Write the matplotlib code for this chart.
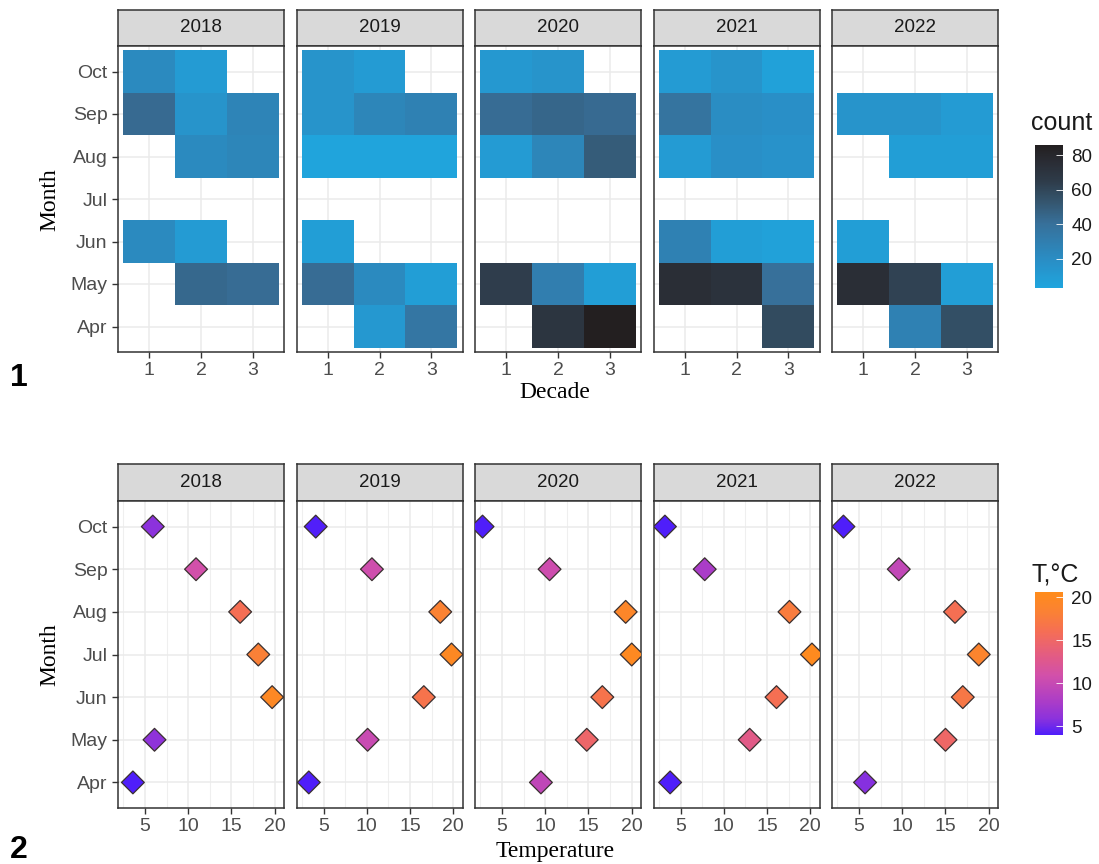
import numpy as np
import matplotlib.pyplot as plt
from matplotlib.colors import LinearSegmentedColormap, Normalize
from matplotlib.cm import ScalarMappable

# -------------------------------
# DATA
# -------------------------------
years = [2018, 2019, 2020, 2021, 2022]
months = ["Apr", "May", "Jun", "Jul", "Aug", "Sep", "Oct"]
decades = [1, 2, 3]
nan = np.nan

# counts per month (rows Apr..Oct) and decade (cols 1..3)
counts_2018 = [[nan, nan, nan], [nan, 44, 42], [22, 10, nan], [nan, nan, nan],
               [nan, 22, 25], [43, 15, 26], [22, 10, nan]]
counts_2019 = [[nan, 12, 36], [42, 22, 8], [8, nan, nan], [nan, nan, nan],
               [4, 4, 4], [15, 25, 28], [15, 10, nan]]
counts_2020 = [[nan, 70, 86], [64, 30, 8], [nan, nan, nan], [nan, nan, nan],
               [10, 25, 50], [42, 45, 43], [12, 15, nan]]
counts_2021 = [[nan, nan, 58], [75, 72, 40], [28, 8, 6], [nan, nan, nan],
               [10, 18, 16], [38, 20, 18], [10, 15, 6]]
counts_2022 = [[nan, 28, 56], [75, 62, 8], [8, nan, nan], [nan, nan, nan],
               [nan, 8, 8], [15, 15, 10], [nan, nan, nan]]
counts = [counts_2018, counts_2019, counts_2020, counts_2021, counts_2022]

# mean temperature per month (Apr..Oct)
temp_2018 = [3.6, 6.1, 19.7, 18.1, 16.0, 10.9, 5.9]
temp_2019 = [3.3, 10.1, 16.6, 19.8, 18.5, 10.6, 4.1]
temp_2020 = [9.5, 14.8, 16.6, 20.0, 19.3, 10.5, 2.75]
temp_2021 = [3.8, 13.0, 16.1, 20.2, 17.6, 7.8, 3.2]
temp_2022 = [5.7, 15.0, 17.0, 18.85, 16.1, 9.6, 3.2]
temps = [temp_2018, temp_2019, temp_2020, temp_2021, temp_2022]

# -------------------------------
# STYLE
# -------------------------------
W, H = 1099, 864
SANS = "Liberation Sans"
SERIF = "Liberation Serif"
GRID = "#EBEBEB"
BORDER = "#333333"
TICKC = "#4D4D4D"

count_cmap = LinearSegmentedColormap.from_list(
    "count", [(0.0, "#1FA5DE"), (0.2, "#2A8DC4"), (0.45, "#37709A"),
              (0.6, "#35566F"), (0.75, "#2E3B49"), (0.88, "#2A2D35"),
              (1.0, "#231F20")])
T_MIN, T_MAX = 4.0, 20.6
temp_cmap = LinearSegmentedColormap.from_list(
    "temp", [(0.0, "#4F1EFA"), (0.114, "#8C32DC"), (0.229, "#AA3CC8"),
             (0.416, "#D250AA"), (0.542, "#E15A87"), (0.723, "#F56E55"),
             (0.849, "#FA8037"), (1.0, "#FF8C1A")])

all_counts = np.array(counts, dtype=float)
count_norm = Normalize(np.nanmin(all_counts) - 1, np.nanmax(all_counts))
temp_norm = Normalize(T_MIN, T_MAX)

fig = plt.figure(figsize=(W / 100, H / 100), dpi=100)


def px_box(left, top, width, height):
    return [left / W, 1 - (top + height) / H, width / W, height / H]


def style_panel(ax, first):
    for s in ax.spines.values():
        s.set_color(BORDER)
        s.set_linewidth(1.1)
    ax.set_axisbelow(True)
    ax.tick_params(axis="both", colors=BORDER, labelcolor=TICKC, labelsize=14,
                   length=4, width=1)
    ax.tick_params(which="minor", length=0)
    for lab in ax.get_xticklabels() + ax.get_yticklabels():
        lab.set_fontfamily(SANS)
    if not first:
        ax.tick_params(axis="y", left=False, labelleft=False)


def add_strip(left, top, width, height, text):
    sax = fig.add_axes(px_box(left, top, width, height))
    sax.set_facecolor("#D9D9D9")
    sax.set_xticks([])
    sax.set_yticks([])
    for s in sax.spines.values():
        s.set_color(BORDER)
        s.set_linewidth(1.1)
    sax.text(0.5, 0.5, text, ha="center", va="center", fontsize=13.5,
             family=SANS, color="#1A1A1A", transform=sax.transAxes)


PANEL_LEFT = 118
PANEL_W = 166
PANEL_STEP = 178.5

# -------------------------------
# TOP: HEATMAPS
# -------------------------------
top_strip, top_panel, top_bottom = 10, 46, 352
x_edges = np.arange(0.5, len(decades) + 1)
y_edges = np.arange(0.5, len(months) + 1)

for i, yr in enumerate(years):
    left = PANEL_LEFT + i * PANEL_STEP
    add_strip(left, top_strip, PANEL_W, top_panel - top_strip, str(yr))
    ax = fig.add_axes(px_box(left, top_panel, PANEL_W, top_bottom - top_panel))
    z = np.ma.masked_invalid(np.array(counts[i], dtype=float))
    ax.pcolormesh(x_edges, y_edges, z, cmap=count_cmap, norm=count_norm)
    ax.set_xlim(0.4, 3.6)
    ax.set_ylim(0.4, 7.6)
    ax.set_xticks(decades)
    ax.set_yticks(range(1, len(months) + 1))
    ax.set_yticklabels(months)
    ax.grid(True, which="major", color=GRID, lw=1.1)
    style_panel(ax, i == 0)

fig.text(50 / W, 1 - 200 / H, "Month", rotation=90, ha="center", va="center",
         fontsize=17, family=SERIF)
fig.text(555 / W, 1 - 392 / H, "Decade", ha="center", va="center",
         fontsize=17, family=SERIF)

cax = fig.add_axes(px_box(1035, 145, 28, 143))
cb = fig.colorbar(ScalarMappable(norm=count_norm, cmap=count_cmap), cax=cax)
cb.outline.set_visible(False)
cb.set_ticks([20, 40, 60, 80])
cax.tick_params(direction="in", color="white", length=5, width=0.6,
                labelsize=13.5, labelcolor="#1A1A1A", pad=6)
for lab in cax.get_yticklabels():
    lab.set_fontfamily(SANS)
fig.text(1031 / W, 1 - 123 / H, "count", ha="left", va="center",
         fontsize=18, family=SANS, color="#1A1A1A")

# -------------------------------
# BOTTOM: TEMPERATURE DIAMONDS
# -------------------------------
bot_strip, bot_panel, bot_bottom = 464, 501, 808
all_t = np.array(temps)
t_pad = 0.05 * (all_t.max() - all_t.min())
month_pos = np.arange(1, len(months) + 1)

for i, yr in enumerate(years):
    left = PANEL_LEFT + i * PANEL_STEP
    add_strip(left, bot_strip, PANEL_W, bot_panel - bot_strip, str(yr))
    ax = fig.add_axes(px_box(left, bot_panel, PANEL_W, bot_bottom - bot_panel))
    ax.scatter(temps[i], month_pos, c=temps[i], cmap=temp_cmap, norm=temp_norm,
               marker="D", s=135, edgecolors="#3A3030", linewidths=0.9, zorder=3)
    ax.set_xlim(all_t.min() - t_pad, all_t.max() + t_pad)
    ax.set_ylim(0.4, 7.6)
    ax.set_xticks([5, 10, 15, 20])
    ax.set_xticks([2.5, 7.5, 12.5, 17.5], minor=True)
    ax.set_yticks(month_pos)
    ax.set_yticklabels(months)
    ax.grid(True, which="major", color=GRID, lw=1.1)
    ax.grid(True, which="minor", axis="x", color="#EFEFEF", lw=0.8)
    style_panel(ax, i == 0)

fig.text(50 / W, 1 - 655 / H, "Month", rotation=90, ha="center", va="center",
         fontsize=17, family=SERIF)
fig.text(555 / W, 1 - 851 / H, "Temperature", ha="center", va="center",
         fontsize=17, family=SERIF)

tax = fig.add_axes(px_box(1035, 592, 28, 143))
tb = fig.colorbar(ScalarMappable(norm=temp_norm, cmap=temp_cmap), cax=tax)
tb.outline.set_visible(False)
tb.set_ticks([5, 10, 15, 20])
tax.tick_params(direction="in", color="white", length=5, width=0.6,
                labelsize=13.5, labelcolor="#1A1A1A", pad=6)
for lab in tax.get_yticklabels():
    lab.set_fontfamily(SANS)
fig.text(1032 / W, 1 - 575 / H, "T,°C", ha="left", va="center",
         fontsize=18, family=SANS, color="#1A1A1A")

# -------------------------------
# PANEL LABELS
# -------------------------------
NARROW = ["Liberation Sans Narrow", "Liberation Sans"]
fig.text(10 / W, 1 - 378 / H, "1", ha="left", va="center", fontsize=23,
         fontweight="bold", family=NARROW)
fig.text(10 / W, 1 - 850 / H, "2", ha="left", va="center", fontsize=23,
         fontweight="bold", family=NARROW)

fig.savefig("out.png", dpi=100)
